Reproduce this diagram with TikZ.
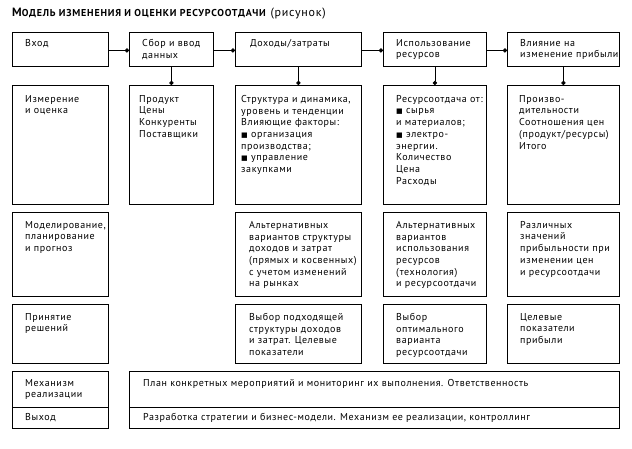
\documentclass[tikz,border=0pt]{standalone}
\usepackage{fontspec}
\setmainfont[LetterSpace=6]{PT Sans}
\newfontfamily\symfont{DejaVu Sans}
\usepackage{tikz}
\usetikzlibrary{arrows.meta,positioning,calc}

\begin{document}
\begin{tikzpicture}[
    x=1pt, y=-1pt,
    % --- Styles ---
    cell/.style={draw, line width=0.8pt, anchor=north west, inner sep=0pt},
    txt/.style={anchor=north west, align=left, inner sep=0pt,
                font=\fontsize{10}{11.7}\selectfont},
    link/.style={line width=0.8pt, -{Circle[length=4.2pt]}},
]
\useasboundingbox (0,0) rectangle (632,448);
\newcommand{\sq}{{\symfont\fontsize{7}{7}\selectfont ■}}

% === Title ===
\node[anchor=west, inner sep=0pt, font=\fontsize{12}{13}\selectfont] (title) at (12,14)
  {{\addfontfeature{LetterSpace=8}\textbf{М{\fontsize{10}{11}\selectfont ОДЕЛЬ ИЗМЕНЕНИЯ И ОЦЕНКИ РЕСУРСООТДАЧИ}}} (рисунок)};

% === Row 1: stages ===
\node[cell, minimum width=96pt,  minimum height=34pt] (in)      at (12,32)  {};
\node[cell, minimum width=84pt,  minimum height=34pt] (collect) at (129,32) {};
\node[cell, minimum width=126pt, minimum height=34pt] (income)  at (235,32) {};
\node[cell, minimum width=103pt, minimum height=34pt] (usage)   at (383,32) {};
\node[cell, minimum width=112pt, minimum height=34pt] (effect)  at (507,32) {};

% === Row 2 ===
\node[cell, minimum width=96pt,  minimum height=119pt] (meas)     at (12,85)  {};
\node[cell, minimum width=84pt,  minimum height=119pt] (prodlist) at (129,85) {};
\node[cell, minimum width=126pt, minimum height=119pt] (struct)   at (235,85) {};
\node[cell, minimum width=103pt, minimum height=119pt] (ratio)    at (383,85) {};
\node[cell, minimum width=112pt, minimum height=119pt] (perf)     at (507,85) {};

% === Row 3 ===
\node[cell, minimum width=96pt,  minimum height=84pt] (model)  at (12,212)  {};
\node[cell, minimum width=126pt, minimum height=84pt] (altinc) at (235,212) {};
\node[cell, minimum width=103pt, minimum height=84pt] (altres) at (383,212) {};
\node[cell, minimum width=112pt, minimum height=84pt] (profit) at (507,212) {};

% === Row 4 ===
\node[cell, minimum width=96pt,  minimum height=59pt] (decide) at (12,304)  {};
\node[cell, minimum width=126pt, minimum height=59pt] (chinc)  at (235,304) {};
\node[cell, minimum width=103pt, minimum height=59pt] (chres)  at (383,304) {};
\node[cell, minimum width=112pt, minimum height=59pt] (target) at (507,304) {};

% === Rows 5-6 ===
\node[cell, minimum width=96pt,  minimum height=36pt] (mech)  at (12,371)  {};
\node[cell, minimum width=490pt, minimum height=36pt] (plan)  at (129,371) {};
\node[cell, minimum width=96pt,  minimum height=21pt] (out)   at (12,407)  {};
\node[cell, minimum width=490pt, minimum height=21pt] (strat) at (129,407) {};

% === Texts ===
\node[txt] (in-t)      at ([xshift=13pt, yshift=-7pt]in.north west) {Вход};
\node[txt] (collect-t) at ([xshift=13pt, yshift=-7pt]collect.north west) {Сбор и ввод\\данных};
\node[txt] (income-t)  at ([xshift=15pt, yshift=-7pt]income.north west) {Доходы/затраты};
\node[txt] (usage-t)   at ([xshift=13pt, yshift=-7pt]usage.north west) {Использование\\ресурсов};
\node[txt] (effect-t)  at ([xshift=13pt, yshift=-7pt]effect.north west) {Влияние на\\изменение прибыли};

\node[txt] (meas-t)     at ([xshift=13pt, yshift=-10pt]meas.north west) {Измерение\\и оценка};
\node[txt] (prodlist-t) at ([xshift=10pt, yshift=-10pt]prodlist.north west) {Продукт\\Цены\\Конкуренты\\Поставщики};
\node[txt] (struct-t)   at ([xshift=6pt, yshift=-10pt]struct.north west)
  {Структура и динамика,\\уровень и тенденции\\Влияющие факторы:\\\sq\ организация\\производства;\\\sq\ управление\\закупками};
\node[txt] (ratio-t)    at ([xshift=13pt, yshift=-10pt]ratio.north west)
  {Ресурсоотдача от:\\\sq\ сырья\\и материалов;\\\sq\ электро-\\энергии.\\Количество\\Цена\\Расходы};
\node[txt] (perf-t)     at ([xshift=12pt, yshift=-10pt]perf.north west)
  {Произво-\\дительности\\Соотношения цен\\(продукт/ресурсы)\\Итого};

\node[txt] (model-t)  at ([xshift=13pt, yshift=-9pt]model.north west) {Моделирование,\\планирование\\и прогноз};
\node[txt] (altinc-t) at ([xshift=14pt, yshift=-9pt]altinc.north west)
  {Альтернативных\\вариантов структуры\\доходов и затрат\\(прямых и косвенных)\\с учетом изменений\\на рынках};
\node[txt] (altres-t) at ([xshift=13pt, yshift=-9pt]altres.north west)
  {Альтернативных\\вариантов\\использования\\ресурсов\\(технология)\\и ресурсоотдачи};
\node[txt] (profit-t) at ([xshift=13pt, yshift=-9pt]profit.north west)
  {Различных\\значений\\прибыльности при\\изменении цен\\и ресурсоотдачи};

\node[txt] (decide-t) at ([xshift=13pt, yshift=-9pt]decide.north west) {Принятие\\решений};
\node[txt] (chinc-t)  at ([xshift=14pt, yshift=-9pt]chinc.north west)
  {Выбор подходящей\\структуры доходов\\и затрат. Целевые\\показатели};
\node[txt] (chres-t)  at ([xshift=13pt, yshift=-9pt]chres.north west)
  {Выбор\\оптимального\\варианта\\ресурсоотдачи};
\node[txt] (target-t) at ([xshift=13pt, yshift=-9pt]target.north west)
  {Целевые\\показатели\\прибыли};

\node[txt] (mech-t)  at ([xshift=13pt, yshift=-8pt]mech.north west) {Механизм\\реализации};
\node[txt] (plan-t)  at ([xshift=14pt, yshift=-8pt]plan.north west)
  {План конкретных мероприятий и мониторинг их выполнения. Ответственность};
\node[txt, anchor=west] (out-t)   at ([xshift=13pt]out.west) {Выход};
\node[txt, anchor=west] (strat-t) at ([xshift=14pt]strat.west)
  {Разработка стратегии и бизнес-модели. Механизм ее реализации, контроллинг};

% === Connectors ===
\draw[link] ([yshift=-1pt]in.east) -- ([yshift=-1pt]collect.west);
\draw[link] ([yshift=-1pt]collect.east) -- ([yshift=-1pt]income.west);
\draw[link] ([yshift=-1pt]income.east) -- ([yshift=-1pt]usage.west);
\draw[link] ([yshift=-1pt]usage.east) -- ([yshift=-1pt]effect.west);

\draw[link] (collect.south) -- (prodlist.north);
\draw[link] (income.south) -- (struct.north);
\draw[link] (usage.south) -- (ratio.north);
\draw[link] (effect.south) -- (perf.north);

\end{tikzpicture}
\end{document}
